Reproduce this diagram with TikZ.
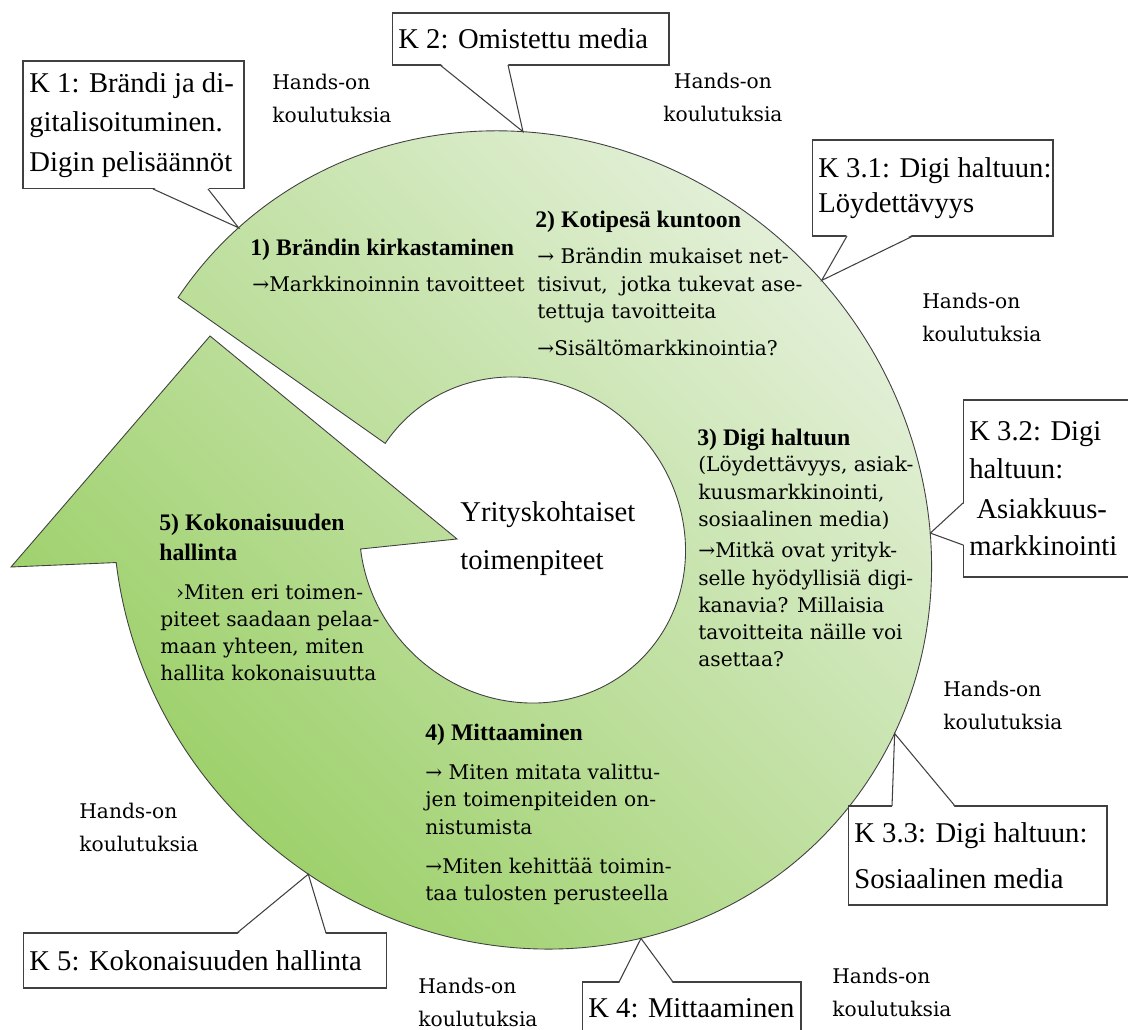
\documentclass[tikz,border=0pt]{standalone}
\usepackage{fontspec}
\setmainfont{Liberation Serif}
\newfontfamily\slabfont{DejaVu Serif}
\usepackage{tikz}
\usetikzlibrary{calc}
\definecolor{ringlight}{RGB}{232,242,224}
\definecolor{ringdark}{RGB}{150,205,95}
\definecolor{edgegray}{RGB}{64,64,64}

\begin{document}
\begin{tikzpicture}[x=0.02cm, y=0.02cm,
  ring/.style={draw=edgegray, line width=0.5pt, top color=ringlight, bottom color=ringdark, shading angle=-45},
  kbox/.style={draw=edgegray, fill=white, line width=0.6pt, inner sep=0pt, outer sep=0pt},
  ktext/.style={font=\fontsize{16.3}{21}\selectfont, align=left, inner sep=0pt, anchor=west},
  wedge/.style={draw=edgegray, line width=0.6pt},
  headtxt/.style={font=\bfseries\fontsize{13.5}{17}\selectfont, align=left, inner sep=0pt, anchor=north west},
  bodytxt/.style={font=\slabfont\fontsize{11.5}{15.5}\selectfont, align=left, inner sep=0pt, anchor=north west},
  handstxt/.style={font=\slabfont\fontsize{11.5}{18.5}\selectfont, align=left, inner sep=0pt, anchor=north west}]
   \useasboundingbox (0,0) rectangle (1128,1030);
   \fill[white] (0,0) rectangle (1128,1030);
   \clip (0,0) rectangle (1128,1030);

   \coordinate (O) at (522.5,490);
   \coordinate (lb) at (11,463);
   \coordinate (tp) at (210,694);
   \coordinate (rb) at (457,491);

   \begin{scope}[shift={(O)}, rotate=-45, xscale=1.032, yscale=0.968]
     \path[ring] (190.5:409) arc[start angle=190.5, end angle=-130, radius=8.18cm]
       -- (lb) -- (tp) -- (rb) -- (-130:163)
       arc[start angle=-130, end angle=190.5, radius=3.26cm] -- cycle;
     \coordinate (t1) at (177.1:409);
     \coordinate (t2) at (133.1:409);
     \coordinate (t31) at (86.2:409);
     \coordinate (t32) at (47.8:409);
     \coordinate (t33) at (18.6:409);
     \coordinate (t4) at (-30:409);
     \coordinate (t5) at (-78.4:409);
   \end{scope}

   \node[font=\fontsize{16.3}{27.2}\selectfont, align=left, inner sep=0pt, anchor=north west] (mid) at (460,529) {Yrityskohtaiset\\toimenpiteet};

   \node[headtxt] (h1) at (250,791) {1) Brändin kirkastaminen};
   \node[bodytxt] (b1) at (252,754) {→Markkinoinnin tavoitteet};
   \node[headtxt] (h2) at (535,819) {2) Kotipesä kuntoon};
   \node[bodytxt] (b2) at (537,782) {→ Brändin mukaiset net-\\tisivut,\ \ jotka tukevat ase-\\tettuja tavoitteita\\[5.5pt]→Sisältömarkkinointia?};
   \node[headtxt] (h3) at (697,601) {3) Digi haltuun};
   \node[bodytxt] (b3) at (698,574) {(Löydettävyys, asiak-\\kuusmarkkinointi,\\sosiaalinen media)\\[2.5pt]→Mitkä ovat yrityk-\\selle hyödyllisiä digi-\\kanavia? Millaisia\\tavoitteita näille voi\\asettaa?};
   \node[headtxt] (h4) at (425,306) {4) Mittaaminen};
   \node[bodytxt] (b4) at (425,266) {→ Miten mitata valittu-\\jen toimenpiteiden on-\\nistumista\\[7pt]→Miten kehittää toimin-\\taa tulosten perusteella};
   \node[headtxt] (h5) at (159,516) {5) Kokonaisuuden\\hallinta};
   \node[bodytxt] (b5) at (160,446) {\hspace*{9pt}›Miten eri toimen-\\piteet saadaan pelaa-\\maan yhteen, miten\\hallita kokonaisuutta};

   \node[handstxt] (ho1) at (272,956) {Hands-on\\koulutuksia};
   \node[handstxt, align=center] (ho2) at (663,957) {Hands-on\\koulutuksia};
   \node[handstxt] (ho3) at (922,737) {Hands-on\\koulutuksia};
   \node[handstxt] (ho4) at (943,349) {Hands-on\\koulutuksia};
   \node[handstxt] (ho5) at (832,62) {Hands-on\\koulutuksia};
   \node[handstxt] (ho6) at (418,52) {Hands-on\\koulutuksia};
   \node[handstxt] (ho7) at (79,227) {Hands-on\\koulutuksia};

   \node[kbox, minimum width=4.42cm, minimum height=2.56cm] (kb1) at (133.5,905) {};
   \fill[white] ([xshift=2.6cm,yshift=0.03cm]kb1.south west) -- (t1) -- ([xshift=3.7cm,yshift=0.03cm]kb1.south west) -- cycle;
   \draw[wedge] ([xshift=2.6cm]kb1.south west) -- (t1) -- ([xshift=3.7cm]kb1.south west);
   \node[ktext] (k1) at ([xshift=0.12cm]kb1.west) {K 1: Brändi ja di-\\[1.5pt]gitalisoituminen.\\[1.5pt]Digin pelisäännöt};

   \node[kbox, minimum width=5.54cm, minimum height=1.04cm] (kb2) at (530.5,991) {};
   \fill[white] ([xshift=0.96cm,yshift=0.03cm]kb2.south west) -- (t2) -- ([xshift=2.32cm,yshift=0.03cm]kb2.south west) -- cycle;
   \draw[wedge] ([xshift=0.96cm]kb2.south west) -- (t2) -- ([xshift=2.32cm]kb2.south west);
   \node[ktext] (k2) at ([xshift=0.12cm]kb2.west) {K 2: Omistettu media};

   \node[kbox, minimum width=4.82cm, minimum height=1.92cm] (kb31) at (932.5,842) {};
   \fill[white] ([xshift=0.7cm,yshift=0.03cm]kb31.south west) -- (t31) -- ([xshift=2.02cm,yshift=0.03cm]kb31.south west) -- cycle;
   \draw[wedge] ([xshift=0.7cm]kb31.south west) -- (t31) -- ([xshift=2.02cm]kb31.south west);
   \node[ktext] (k31) at ([xshift=0.12cm]kb31.west) {K 3.1: Digi haltuun:\\[-1pt]Löydettävyys};

   \node[kbox, minimum width=3.54cm, minimum height=3.54cm] (kb32) at (1051.5,541.5) {};
   \fill[white] ([yshift=-2.06cm,xshift=0.03cm]kb32.north west) -- (t32) -- ([yshift=-2.9cm,xshift=0.03cm]kb32.north west) -- cycle;
   \draw[wedge] ([yshift=-2.06cm]kb32.north west) -- (t32) -- ([yshift=-2.9cm]kb32.north west);
   \node[ktext] (k32) at ([xshift=0.12cm]kb32.west) {K 3.2: Digi\\[1pt]haltuun:\\[1.5pt]\ Asiakkuus-\\markkinointi};

   \node[kbox, minimum width=5.18cm, minimum height=1.98cm] (kb33) at (977.5,174.5) {};
   \fill[white] ([xshift=0.88cm,yshift=-0.03cm]kb33.north west) -- (t33) -- ([xshift=2.14cm,yshift=-0.03cm]kb33.north west) -- cycle;
   \draw[wedge] ([xshift=0.88cm]kb33.north west) -- (t33) -- ([xshift=2.14cm]kb33.north west);
   \node[ktext] (k33) at ([xshift=0.12cm]kb33.west) {K 3.3: Digi haltuun:\\[5pt]Sosiaalinen media};

   \node[kbox, minimum width=4.38cm, minimum height=1.04cm] (kb4) at (691.5,22) {};
   \fill[white] ([xshift=0.74cm,yshift=-0.03cm]kb4.north west) -- (t4) -- ([xshift=1.82cm,yshift=-0.03cm]kb4.north west) -- cycle;
   \draw[wedge] ([xshift=0.74cm]kb4.north west) -- (t4) -- ([xshift=1.82cm]kb4.north west);
   \node[ktext] (k4) at ([xshift=0.12cm]kb4.west) {K 4: Mittaaminen};

   \node[kbox, minimum width=7.28cm, minimum height=1.1cm] (kb5) at (205,69.5) {};
   \fill[white] ([xshift=4.28cm,yshift=-0.03cm]kb5.north west) -- (t5) -- ([xshift=6.06cm,yshift=-0.03cm]kb5.north west) -- cycle;
   \draw[wedge] ([xshift=4.28cm]kb5.north west) -- (t5) -- ([xshift=6.06cm]kb5.north west);
   \node[ktext] (k5) at ([xshift=0.12cm]kb5.west) {K 5: Kokonaisuuden hallinta};
\end{tikzpicture}
\end{document}
